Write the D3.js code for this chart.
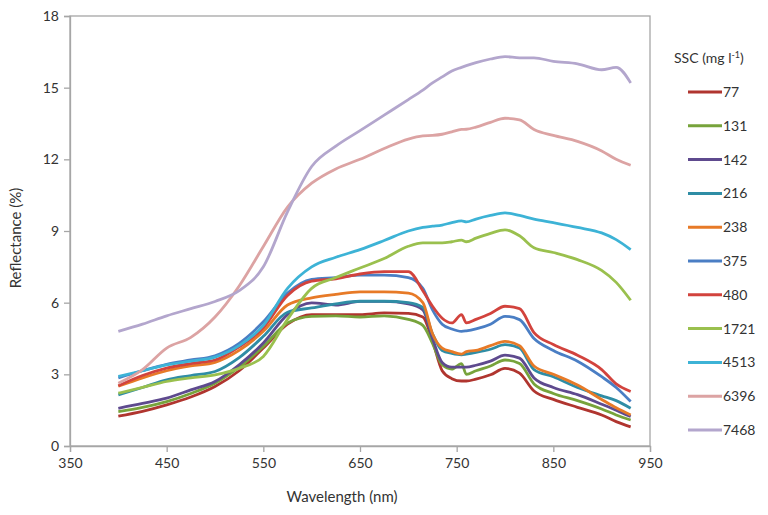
<!DOCTYPE html>
<html>
<head>
<meta charset="utf-8">
<script src="https://cdn.jsdelivr.net/npm/d3@7/dist/d3.min.js"></script>
<style>
  body { margin: 0; background: #fff; }
  text { font-family: Lato, "Open Sans", sans-serif; fill: #333; }
</style>
</head>
<body>
<div id="chart"></div>
<script>
// wavelengths (nm) shared by every spectrum
const wavelengths = [400, 425, 450, 475, 500, 525, 550, 575, 600, 625, 650, 675, 700, 715, 725, 735, 745, 755, 760, 770, 785, 800, 815, 830, 850, 875, 900, 915, 930];

// reflectance (%) per SSC sample
const r77   = [1.25, 1.45, 1.72, 2.05, 2.49, 3.15, 4.1, 5.1, 5.5, 5.5, 5.5, 5.57, 5.55, 5.4, 4.4, 3.15, 2.82, 2.72, 2.72, 2.8, 2.98, 3.25, 3.05, 2.3, 1.95, 1.62, 1.3, 1.02, 0.8];
const r131  = [1.44, 1.62, 1.86, 2.2, 2.63, 3.3, 4.17, 5.15, 5.43, 5.45, 5.4, 5.45, 5.3, 5.05, 4.3, 3.4, 3.22, 3.45, 3.0, 3.15, 3.35, 3.6, 3.45, 2.6, 2.2, 1.9, 1.55, 1.3, 1.09];
const r142  = [1.58, 1.78, 2.0, 2.35, 2.7, 3.4, 4.31, 5.5, 5.99, 5.9, 6.05, 6.05, 5.95, 5.7, 4.5, 3.5, 3.3, 3.3, 3.3, 3.38, 3.55, 3.8, 3.68, 2.85, 2.45, 2.15, 1.75, 1.5, 1.23];
const r216  = [2.14, 2.45, 2.77, 2.95, 3.12, 3.7, 4.59, 5.6, 5.78, 5.95, 6.06, 6.06, 6.0, 5.8, 4.7, 4.0, 3.88, 3.82, 3.85, 3.92, 4.05, 4.24, 4.1, 3.2, 2.9, 2.45, 2.1, 1.9, 1.58];
const r238  = [2.5, 2.85, 3.15, 3.35, 3.5, 4.0, 4.8, 5.9, 6.2, 6.35, 6.45, 6.45, 6.4, 6.0, 4.7, 4.1, 3.95, 3.85, 3.95, 4.0, 4.2, 4.38, 4.2, 3.35, 3.0, 2.55, 1.95, 1.6, 1.3];
const r375  = [2.85, 3.15, 3.42, 3.6, 3.78, 4.3, 5.2, 6.4, 6.97, 7.05, 7.15, 7.15, 7.05, 6.6, 5.7, 5.1, 4.9, 4.8, 4.82, 4.9, 5.1, 5.43, 5.29, 4.5, 4.0, 3.55, 2.9, 2.45, 1.86];
const r480  = [2.52, 2.95, 3.26, 3.45, 3.6, 4.15, 4.95, 6.3, 6.9, 7.0, 7.2, 7.3, 7.3, 6.5, 5.85, 5.35, 5.15, 5.5, 5.15, 5.3, 5.55, 5.85, 5.75, 4.75, 4.25, 3.8, 3.2, 2.6, 2.28];
const r1721 = [2.21, 2.45, 2.7, 2.85, 2.98, 3.25, 3.75, 5.3, 6.6, 7.05, 7.45, 7.85, 8.36, 8.5, 8.5, 8.5, 8.55, 8.62, 8.55, 8.7, 8.9, 9.05, 8.8, 8.3, 8.1, 7.8, 7.35, 6.85, 6.1];
const r4513 = [2.91, 3.15, 3.4, 3.55, 3.72, 4.2, 5.05, 6.6, 7.5, 7.9, 8.22, 8.6, 9.0, 9.15, 9.2, 9.25, 9.35, 9.42, 9.38, 9.5, 9.65, 9.76, 9.65, 9.5, 9.35, 9.15, 8.92, 8.64, 8.22];
const r6396 = [2.63, 3.2, 4.1, 4.55, 5.4, 6.7, 8.35, 10.0, 11.0, 11.6, 12.0, 12.45, 12.85, 12.98, 13.0, 13.05, 13.15, 13.25, 13.26, 13.35, 13.55, 13.72, 13.65, 13.25, 13.0, 12.75, 12.35, 12.0, 11.75];
const r7468 = [4.8, 5.1, 5.45, 5.75, 6.05, 6.5, 7.5, 9.8, 11.7, 12.55, 13.2, 13.85, 14.5, 14.9, 15.2, 15.45, 15.7, 15.85, 15.92, 16.05, 16.2, 16.3, 16.25, 16.25, 16.1, 16.0, 15.75, 15.85, 15.2];

const sscLabels = ["77", "131", "142", "216", "238", "375", "480", "1721", "4513", "6396", "7468"];
const seriesValues = [r77, r131, r142, r216, r238, r375, r480, r1721, r4513, r6396, r7468];
const colors = ["#b0352f", "#77a33b", "#5e4a8e", "#2f8da5", "#e77a27", "#4a7ec4", "#d2433d", "#9ac04e", "#3db3d6", "#dca3a3", "#b3a6cd"];

const xTicks = [350, 450, 550, 650, 750, 850, 950];
const yTicks = [0, 3, 6, 9, 12, 15, 18];

const width = 768, height = 515;
const margin = { left: 70, right: 118, top: 16, bottom: 69 };

const svg = d3.select("#chart").append("svg")
  .attr("width", width)
  .attr("height", height);

const x = d3.scaleLinear().domain([350, 950]).range([margin.left, width - margin.right]);
const y = d3.scaleLinear().domain([0, 18]).range([height - margin.bottom, margin.top]);

// plot frame
svg.append("rect")
  .attr("x", x(350)).attr("y", y(18))
  .attr("width", x(950) - x(350)).attr("height", y(0) - y(18))
  .attr("fill", "none").attr("stroke", "#a6a6a6").attr("stroke-width", 1.3);

// axes
const xAxis = svg.append("g")
  .attr("transform", `translate(0,${y(0)})`)
  .call(d3.axisBottom(x).tickValues(xTicks).tickSize(6).tickPadding(6).tickFormat(d3.format("d")));
const yAxis = svg.append("g")
  .attr("transform", `translate(${x(350)},0)`)
  .call(d3.axisLeft(y).tickValues(yTicks).tickSize(6).tickPadding(5));

[xAxis, yAxis].forEach(g => {
  g.select(".domain").attr("stroke", "#a6a6a6").attr("stroke-width", 1.3);
  g.selectAll(".tick line").attr("stroke", "#a6a6a6").attr("stroke-width", 1.3);
  g.selectAll(".tick text").style("font-family", "Lato, 'Open Sans', sans-serif")
    .style("font-size", "14px").attr("fill", "#333");
});

// axis titles
svg.append("text")
  .attr("x", 342).attr("y", 502)
  .attr("text-anchor", "middle").style("font-size", "15px")
  .text("Wavelength (nm)");
svg.append("text")
  .attr("transform", `translate(21,238) rotate(-90)`)
  .attr("text-anchor", "middle").style("font-size", "15px")
  .text("Reflectance (%)");

// spectra
const line = d3.line()
  .x((d, i) => x(wavelengths[i]))
  .y(d => y(d))
  .curve(d3.curveMonotoneX);

svg.append("g").selectAll("path")
  .data(seriesValues)
  .enter()
  .append("path")
  .attr("d", line)
  .attr("fill", "none")
  .attr("stroke", (d, i) => colors[i])
  .attr("stroke-width", 2.8)
  .attr("stroke-linejoin", "round");

// legend
const legend = svg.append("g");
const title = legend.append("text")
  .attr("x", 674).attr("y", 63)
  .style("font-size", "14px");
title.append("tspan").text("SSC (mg l");
title.append("tspan").attr("dy", -5).style("font-size", "9px").text("-1");
title.append("tspan").attr("dy", 5).text(")");

const item = legend.selectAll(".item")
  .data(sscLabels)
  .enter()
  .append("g")
  .attr("transform", (d, i) => `translate(0,${92 + i * 33.8})`);
item.append("line")
  .attr("x1", 688).attr("x2", 722)
  .attr("stroke", (d, i) => colors[i])
  .attr("stroke-width", 3);
item.append("text")
  .attr("x", 723).attr("y", 5)
  .style("font-size", "14px")
  .text(d => d);
</script>
</body>
</html>
